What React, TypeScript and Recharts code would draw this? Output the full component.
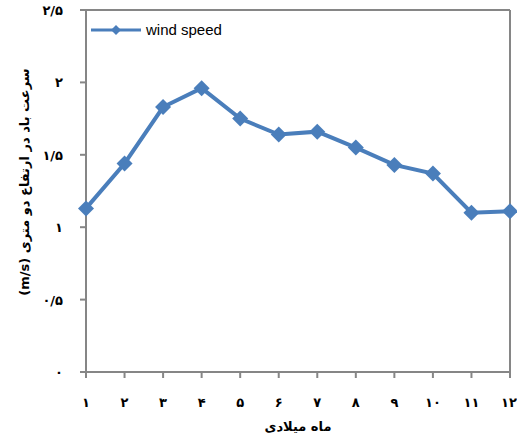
import {
  LineChart,
  Line,
  XAxis,
  YAxis,
  Legend,
  ReferenceLine,
} from "recharts";

const months = [1, 2, 3, 4, 5, 6, 7, 8, 9, 10, 11, 12];
const monthLabels = ["۱", "۲", "۳", "۴", "۵", "۶", "۷", "۸", "۹", "۱۰", "۱۱", "۱۲"];
const windSpeed = [1.13, 1.44, 1.83, 1.96, 1.75, 1.64, 1.66, 1.55, 1.43, 1.37, 1.1, 1.11];
const yTicks = [0, 0.5, 1, 1.5, 2, 2.5];
const yTickLabels = ["۰", "۰/۵", "۱", "۱/۵", "۲", "۲/۵"];

const data = months.map((m, i) => ({ month: m, windSpeed: windSpeed[i] }));

const BLUE = "#4A7EBB";
const AXIS = "#868686";
const FONT = "'DejaVu Sans', sans-serif";

function Diamond(props: any) {
  const { cx, cy } = props;
  if (cx == null || cy == null) return null;
  const r = 8;
  return (
    <polygon
      points={`${cx},${cy - r} ${cx + r},${cy} ${cx},${cy + r} ${cx - r},${cy}`}
      fill={BLUE}
    />
  );
}

function XTick(props: any) {
  const { x, y, payload } = props;
  const idx = months.indexOf(payload.value);
  return (
    <text x={x} y={y + 27} textAnchor="middle" fontSize={13} fontWeight="bold" fontFamily={FONT} fill="#000">
      {monthLabels[idx]}
    </text>
  );
}

function YTick(props: any) {
  const { x, y, payload } = props;
  const idx = yTicks.indexOf(payload.value);
  return (
    <text x={x - 15} y={y + 5} textAnchor="end" fontSize={13} fontWeight="bold" fontFamily={FONT} fill="#000">
      {yTickLabels[idx]}
    </text>
  );
}

function LegendBox() {
  return (
    <div style={{ display: "flex", alignItems: "center", fontFamily: "'Liberation Sans', Arial, sans-serif", fontSize: 15 }}>
      <svg width={52} height={16}>
        <line x1={1} y1={8} x2={51} y2={8} stroke={BLUE} strokeWidth={3} />
        <polygon points="26,3 31,8 26,13 21,8" fill={BLUE} />
      </svg>
      <span style={{ marginLeft: 4, color: "#000" }}>wind speed</span>
    </div>
  );
}

export default function App() {
  return (
    <div style={{ width: 517, height: 438, background: "#fff", position: "relative" }}>
      <style>{`body{margin:0}`}</style>
      <LineChart
        width={517}
        height={438}
        data={data}
        margin={{ top: 10, right: 7, left: 0, bottom: 0 }}
      >
        <XAxis
          dataKey="month"
          type="number"
          domain={[1, 12]}
          ticks={months}
          tick={<XTick />}
          tickSize={6}
          tickLine={{ stroke: AXIS, strokeWidth: 2 }}
          axisLine={{ stroke: AXIS, strokeWidth: 2 }}
          height={66}
          label={{
            content: () => (
              <text x={298} y={431} textAnchor="middle" fontSize={13} fontWeight="bold" fontFamily={FONT} fill="#000">
                ماه میلادی
              </text>
            ),
          }}
        />
        <YAxis
          domain={[0, 2.5]}
          ticks={yTicks}
          tick={<YTick />}
          tickSize={6}
          tickLine={{ stroke: AXIS, strokeWidth: 2 }}
          axisLine={{ stroke: AXIS, strokeWidth: 2 }}
          width={86}
          label={{
            content: () => (
              <text
                x={0}
                y={0}
                transform="translate(29,182) rotate(-90)"
                textAnchor="middle"
                direction="rtl"
                fontSize={13}
                fontWeight="bold"
                fontFamily={FONT}
                fill="#000"
              >
                سرعت باد در ارتفاع دو متری (m/s)
              </text>
            ),
          }}
        />
        <ReferenceLine y={2.5} stroke={AXIS} strokeWidth={2} />
        <ReferenceLine x={12} stroke={AXIS} strokeWidth={2} />
        <Legend
          layout="horizontal"
          verticalAlign="middle"
          align="center"
          wrapperStyle={{ position: "absolute", top: 21, left: 90, width: "auto", height: "auto" }}
          content={() => <LegendBox />}
        />
        <Line
          type="linear"
          dataKey="windSpeed"
          name="wind speed"
          stroke={BLUE}
          strokeWidth={4}
          dot={<Diamond />}
          activeDot={false}
          isAnimationActive={false}
        />
      </LineChart>
    </div>
  );
}
